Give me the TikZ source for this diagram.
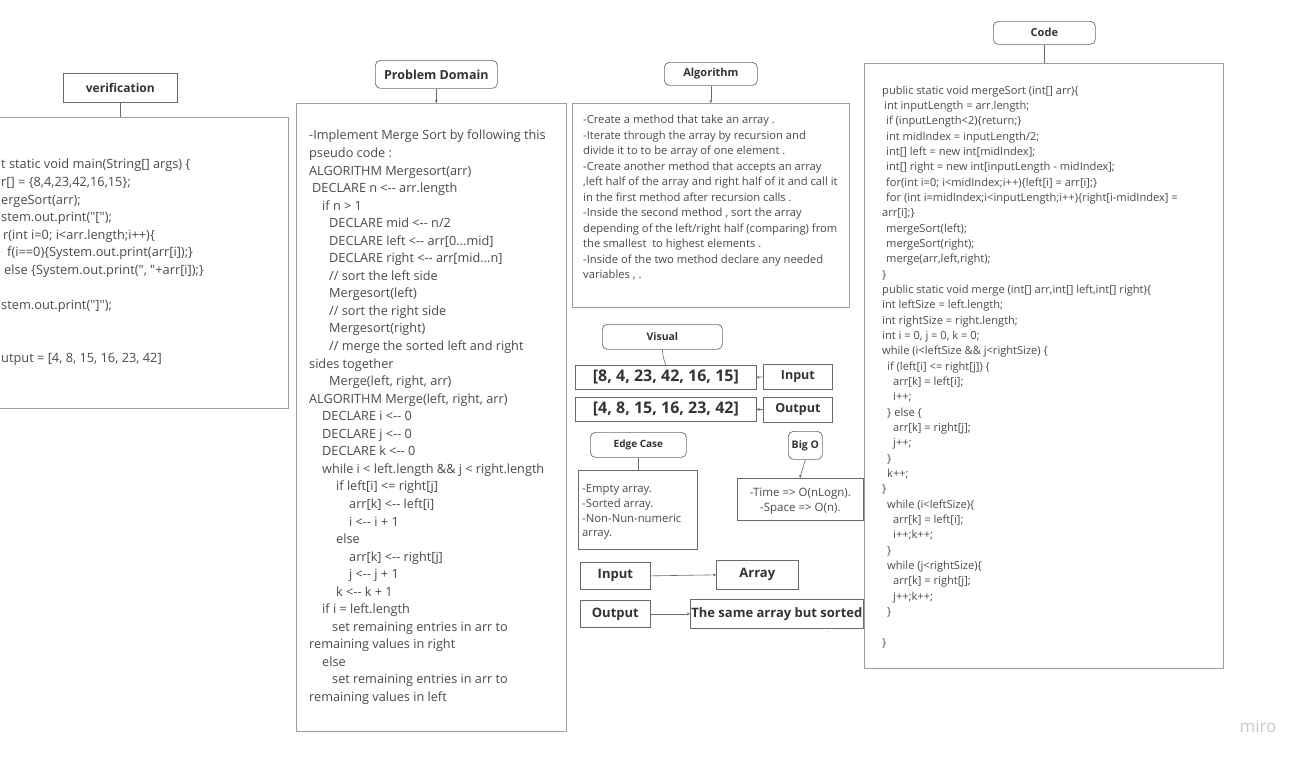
\documentclass[tikz,border=0pt]{standalone}
\usepackage{fontspec}
\setmainfont{Open Sans}[Ligatures=TeXOff]
\usetikzlibrary{arrows.meta}
\definecolor{bordergray}{HTML}{9E9E9E}
\definecolor{darkborder}{HTML}{6A6A6A}
\definecolor{bodytext}{HTML}{4A4A4A}
\definecolor{titletext}{HTML}{333333}
\definecolor{mirogray}{HTML}{C6C8D2}
\begin{document}
\begin{tikzpicture}[x=1pt,y=-1pt,
  panel/.style={draw=bordergray, line width=0.9pt, anchor=north west, inner sep=0pt},
  rtitle/.style={draw=darkborder, line width=0.7pt, rounded corners=5pt, anchor=north west, inner sep=0pt, text=titletext, font=\bfseries\fontsize{11}{13}\selectfont},
  stitle/.style={draw=darkborder, line width=0.7pt, anchor=north west, inner sep=0pt, text=titletext, font=\bfseries\fontsize{12.5}{14}\selectfont},
  bodytxt/.style={inner sep=0pt, anchor=north west, align=left, text=bodytext},
  conn/.style={draw=darkborder, line width=0.6pt},
  arr/.style={conn, -{Stealth[length=3pt,width=3pt]}},
]
\useasboundingbox (0,0) rectangle (1309,763);
\fill[white] (0,0) rectangle (1309,763);

% ---------- verification ----------
\node[stitle, font=\bfseries\fontsize{12}{14}\selectfont, minimum width=114, minimum height=29] (vt) at (63,73) {verification};
\node[panel, minimum width=301, minimum height=291] (vb) at (-13,117) {};
\draw[conn] (vt.south) -- (vt.south |- vb.north);
\node[bodytxt, font=\fontsize{12.8}{17.6}\selectfont] (vtext) at (1,159) {%
t static void main(String[] args) \{\\
r[] = \{8,4,23,42,16,15\};\\
ergeSort(arr);\\
stem.out.print("[");\\
\hspace*{2pt}r(int i=0; i<arr.length;i++)\{\\
\hspace*{6pt}f(i==0)\{System.out.print(arr[i]);\}\\
\hspace*{3pt}else \{System.out.print(", "+arr[i]);\}\\
\mbox{}\\
stem.out.print("]");\\
\mbox{}\\
\mbox{}\\
utput = [4, 8, 15, 16, 23, 42]};

% ---------- problem domain ----------
\node[rtitle, font=\bfseries\fontsize{12.5}{14}\selectfont, minimum width=122, minimum height=28] (pt) at (375,60) {Problem Domain};
\node[panel, minimum width=270, minimum height=628] (pb) at (296,103) {};
\draw[arr] (pt.south) -- (pt.south |- pb.north);
\node[bodytxt, font=\fontsize{12.7}{17.55}\selectfont] (ptext) at (309,130) {%
-Implement Merge Sort by following this\\
pseudo code :\\
ALGORITHM Mergesort(arr)\\
\hspace*{3pt}DECLARE n <-- arr.length\\
\hspace*{13pt}if n > 1\\
\hspace*{20pt}DECLARE mid <-- n/2\\
\hspace*{20pt}DECLARE left <-- arr[0...mid]\\
\hspace*{20pt}DECLARE right <-- arr[mid...n]\\
\hspace*{20pt}// sort the left side\\
\hspace*{20pt}Mergesort(left)\\
\hspace*{20pt}// sort the right side\\
\hspace*{20pt}Mergesort(right)\\
\hspace*{20pt}// merge the sorted left and right\\
sides together\\
\hspace*{20pt}Merge(left, right, arr)\\
ALGORITHM Merge(left, right, arr)\\
\hspace*{13pt}DECLARE i <-- 0\\
\hspace*{13pt}DECLARE j <-- 0\\
\hspace*{13pt}DECLARE k <-- 0\\
\hspace*{13pt}while i < left.length \&\& j < right.length\\
\hspace*{27pt}if left[i] <= right[j]\\
\hspace*{40pt}arr[k] <-- left[i]\\
\hspace*{40pt}i <-- i + 1\\
\hspace*{27pt}else\\
\hspace*{40pt}arr[k] <-- right[j]\\
\hspace*{40pt}j <-- j + 1\\
\hspace*{27pt}k <-- k + 1\\
\hspace*{13pt}if i = left.length\\
\hspace*{23pt}set remaining entries in arr to\\
remaining values in right\\
\hspace*{13pt}else\\
\hspace*{23pt}set remaining entries in arr to\\
remaining values in left};

% ---------- algorithm ----------
\node[rtitle, minimum width=93, minimum height=23] (at) at (664,62) {Algorithm};
\node[panel, minimum width=277, minimum height=204] (ab) at (572,103) {};
\draw[arr] (at.south) -- (at.south |- ab.north);
\node[bodytxt, font=\fontsize{11.2}{15.5}\selectfont] (atext) at (583,115) {%
-Create a method that take an array .\\
-Iterate through the array by recursion and\\
divide it to to be array of one element .\\
-Create another method that accepts an array\\
,left half of the array and right half of it and call it\\
in the first method after recursion calls .\\
-Inside the second method , sort the array\\
depending of the left/right half (comparing) from\\
the smallest\ \ to highest elements .\\
-Inside of the two method declare any needed\\
variables , .};

% ---------- code ----------
\node[rtitle, minimum width=102, minimum height=23] (ct) at (993,21) {Code};
\node[panel, minimum width=359, minimum height=605] (cb) at (864,63) {};
\draw[conn] (ct.south) -- (ct.south |- cb.north);
\node[bodytxt, font=\fontsize{11.1}{15.33}\selectfont] (ctext) at (882,85.5) {%
public static void mergeSort (int[] arr)\{\\
\hspace*{2pt}int inputLength = arr.length;\\
\hspace*{4pt}if (inputLength<2)\{return;\}\\
\hspace*{4pt}int midIndex = inputLength/2;\\
\hspace*{4pt}int[] left = new int[midIndex];\\
\hspace*{4pt}int[] right = new int[inputLength - midIndex];\\
\hspace*{4pt}for(int i=0; i<midIndex;i++)\{left[i] = arr[i];\}\\
\hspace*{4pt}for (int i=midIndex;i<inputLength;i++)\{right[i-midIndex] =\\
arr[i];\}\\
\hspace*{4pt}mergeSort(left);\\
\hspace*{4pt}mergeSort(right);\\
\hspace*{4pt}merge(arr,left,right);\\
\}\\
public static void merge (int[] arr,int[] left,int[] right)\{\\
int leftSize = left.length;\\
int rightSize = right.length;\\
int i = 0, j = 0, k = 0;\\
while (i<leftSize \&\& j<rightSize) \{\\
\hspace*{5pt}if (left[i] <= right[j]) \{\\
\hspace*{11pt}arr[k] = left[i];\\
\hspace*{11pt}i++;\\
\hspace*{5pt}\} else \{\\
\hspace*{11pt}arr[k] = right[j];\\
\hspace*{11pt}j++;\\
\hspace*{5pt}\}\\
\hspace*{5pt}k++;\\
\}\\
\hspace*{5pt}while (i<leftSize)\{\\
\hspace*{11pt}arr[k] = left[i];\\
\hspace*{11pt}i++;k++;\\
\hspace*{5pt}\}\\
\hspace*{5pt}while (j<rightSize)\{\\
\hspace*{11pt}arr[k] = right[j];\\
\hspace*{11pt}j++;k++;\\
\hspace*{5pt}\}\\
\mbox{}\\
\}};

% ---------- visual ----------
\node[rtitle, font=\bfseries\fontsize{10.5}{12}\selectfont, minimum width=120, minimum height=25] (vis) at (602,324) {Visual};
\node[stitle, font=\bfseries\fontsize{16}{18}\selectfont, minimum width=181, minimum height=24] (inarr) at (575,365) {[8, 4, 23, 42, 16, 15]};
\node[stitle, minimum width=69, minimum height=25] (inlab) at (763,364) {Input};
\node[stitle, font=\bfseries\fontsize{16}{18}\selectfont, minimum width=181, minimum height=24] (outarr) at (575,397) {[4, 8, 15, 16, 23, 42]};
\node[stitle, minimum width=69, minimum height=25] (outlab) at (763,396.5) {Output};
\draw[conn] (vis.south) .. controls (663,357) .. (inarr.north);
\draw[arr] (inlab.west) -- (inarr.east);
\draw[arr] (outlab.west) -- (outarr.east);

% ---------- edge case ----------
\node[rtitle, font=\bfseries\fontsize{10}{12}\selectfont, minimum width=96, minimum height=25] (ec) at (590,432) {Edge Case};
\node[panel, draw=darkborder, line width=0.7pt, minimum width=119, minimum height=79] (eb) at (578,470) {};
\draw[conn] (ec.south) -- (ec.south |- eb.north);
\node[bodytxt, font=\fontsize{11.3}{14.7}\selectfont] (etext) at (582,484.5) {%
-Empty array.\\
-Sorted array.\\
-Non-Nun-numeric\\
array.};

% ---------- big O ----------
\node[rtitle, font=\bfseries\fontsize{10.5}{12}\selectfont, minimum width=34, minimum height=28] (bo) at (788,431) {Big O};
\node[panel, draw=darkborder, line width=0.7pt, minimum width=126, minimum height=42] (bb) at (737,478) {};
\draw[arr] (bo.south) .. controls (802,468) .. (800,478);
\node[inner sep=0pt, align=center, text=bodytext, font=\fontsize{11.5}{15}\selectfont, yshift=-2pt] (btext) at (bb.center) {-Time => O(nLogn).\\-Space => O(n).};

% ---------- input / output ----------
\node[stitle, font=\bfseries\fontsize{13}{15}\selectfont, minimum width=70, minimum height=27] (inp) at (580,562) {Input};
\node[stitle, font=\bfseries\fontsize{13}{15}\selectfont, minimum width=82, minimum height=29] (arrn) at (716,560) {Array};
\node[stitle, font=\bfseries\fontsize{13}{15}\selectfont, minimum width=70, minimum height=27] (outp) at (580,600) {Output};
\node[stitle, font=\bfseries\fontsize{13}{15}\selectfont, minimum width=173, minimum height=29] (same) at (690,599) {The same array but sorted};
\draw[arr] (inp.east) -- (arrn.west);
\draw[arr] (outp.east) -- (same.west);
\node[inner sep=0pt, text=bordergray, font=\fontsize{6}{6}\selectfont] (tick) at (827,633) {-};

% ---------- logo ----------
\node[inner sep=0pt, text=mirogray, font=\fontsize{17}{18}\selectfont] (logo) at (1258,726) {miro};
\end{tikzpicture}
\end{document}
